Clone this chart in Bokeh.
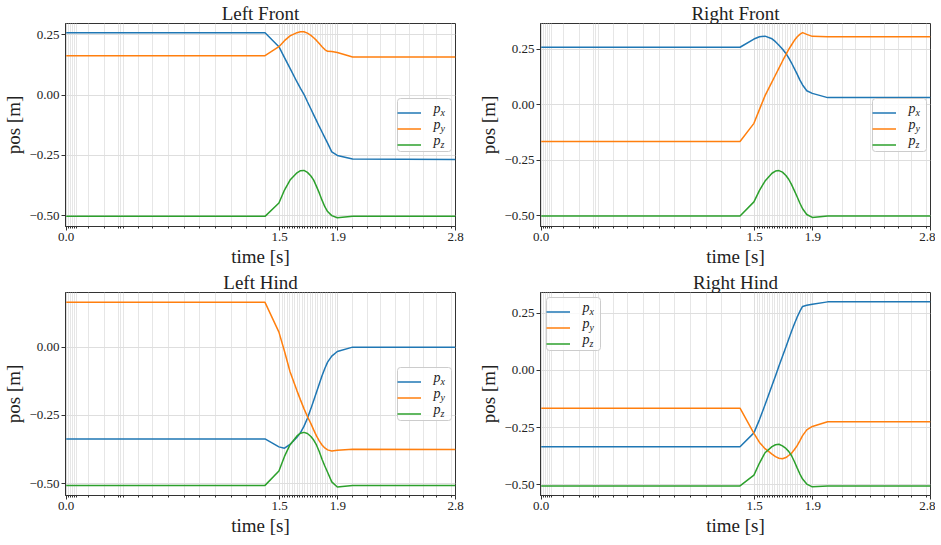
from bokeh.plotting import figure
from bokeh.layouts import column, row
from bokeh.models import FixedTicker, Range1d, Legend, LegendItem, Label, BoxAnnotation
from bokeh.embed import file_html
from bokeh.resources import INLINE

# ---------------- data ----------------
T = [0.0, 1.43, 1.53, 1.57, 1.61, 1.66, 1.685, 1.71, 1.735, 1.76, 1.78, 1.80, 1.82, 1.84,
     1.86, 1.88, 1.91, 1.95, 2.06, 2.8]

LF_px = [0.258, 0.258, 0.200, 0.155, 0.110, 0.054, 0.028, 0.003, -0.028, -0.058, -0.082,
         -0.106, -0.130, -0.153, -0.176, -0.199, -0.235, -0.250, -0.265, -0.267]
LF_py = [0.163, 0.163, 0.200, 0.225, 0.245, 0.258, 0.262, 0.262, 0.256, 0.247, 0.237,
         0.226, 0.213, 0.200, 0.188, 0.181, 0.180, 0.176, 0.157, 0.157]
LF_pz = [-0.502, -0.502, -0.447, -0.393, -0.352, -0.322, -0.313, -0.312, -0.320, -0.335, -0.352,
         -0.378, -0.405, -0.435, -0.462, -0.482, -0.499, -0.508, -0.502, -0.502]

RF_px = [0.260, 0.260, 0.297, 0.307, 0.310, 0.298, 0.285, 0.269, 0.252, 0.232, 0.212,
         0.190, 0.165, 0.140, 0.113, 0.090, 0.064, 0.052, 0.033, 0.033]
RF_py = [-0.165, -0.165, -0.083, -0.020, 0.042, 0.104, 0.135, 0.166, 0.197, 0.227, 0.250,
         0.270, 0.290, 0.306, 0.318, 0.326, 0.318, 0.309, 0.307, 0.307]
RF_pz = [-0.501, -0.501, -0.437, -0.385, -0.343, -0.308, -0.298, -0.296, -0.303, -0.318, -0.335,
         -0.358, -0.385, -0.413, -0.442, -0.468, -0.494, -0.507, -0.501, -0.501]

LH_px = [-0.336, -0.336, -0.365, -0.370, -0.356, -0.330, -0.313, -0.290, -0.260, -0.225, -0.195,
         -0.165, -0.135, -0.105, -0.078, -0.055, -0.033, -0.016, 0.000, 0.000]
LH_py = [0.164, 0.164, 0.055, -0.015, -0.090, -0.160, -0.193, -0.225, -0.254, -0.280, -0.303,
         -0.325, -0.343, -0.358, -0.369, -0.376, -0.380, -0.377, -0.374, -0.375]
LH_pz = [-0.506, -0.506, -0.453, -0.400, -0.357, -0.325, -0.315, -0.312, -0.316, -0.327, -0.340,
         -0.358, -0.382, -0.410, -0.435, -0.458, -0.493, -0.512, -0.506, -0.506]

RH_px = [-0.334, -0.334, -0.273, -0.215, -0.150, -0.066, -0.024, 0.019, 0.061, 0.103, 0.137,
         0.170, 0.202, 0.232, 0.258, 0.280, 0.285, 0.290, 0.300, 0.300]
RH_py = [-0.165, -0.165, -0.275, -0.315, -0.342, -0.366, -0.377, -0.384, -0.386, -0.381, -0.372,
         -0.362, -0.347, -0.330, -0.308, -0.285, -0.260, -0.245, -0.224, -0.224]
RH_pz = [-0.505, -0.505, -0.458, -0.405, -0.360, -0.333, -0.325, -0.323, -0.330, -0.341, -0.354,
         -0.372, -0.397, -0.425, -0.452, -0.475, -0.497, -0.509, -0.505, -0.505]

TITLES = ["Left Front", "Right Front", "Left Hind", "Right Hind"]
SERIES_NAMES = ["x", "y", "z"]

X_MAJOR = [0.0, 1.535, 1.954, 2.8]
X_MAJOR_LABELS = ["0.0", "1.5", "1.9", "2.8"]
X_MINOR = [0.015, 0.03, 0.045, 0.06, 0.076, 0.161, 0.275, 0.379, 0.394, 0.41, 0.517, 0.62,
           0.734, 0.848, 0.961, 1.073, 1.187, 1.30, 1.433,
           1.553, 1.571, 1.590, 1.608, 1.626, 1.644, 1.663, 1.681, 1.699, 1.717, 1.735,
           1.754, 1.772, 1.790, 1.808, 1.826, 1.845, 1.863, 1.881, 1.899, 1.917, 1.936,
           2.061, 2.168, 2.26, 2.367, 2.466, 2.573, 2.665, 2.772]
Y_TICKS = [-0.5, -0.25, 0.0, 0.25]
Y_TICK_LABELS = ["\u22120.50", "\u22120.25", "0.00", "0.25"]

Y_RANGES = [(-0.544, 0.296), (-0.548, 0.367), (-0.543, 0.200), (-0.547, 0.341)]
LEGEND_WHERE = ["right", "right", "right", "top_left"]

COLORS = ["#1f77b4", "#ff7f0e", "#2ca02c"]
FONT = "Liberation Serif"

# ---------------- layout ----------------
FW = 390
FH = 203
PAD, IH, SP, GW, STANDOFF, LW = 4, 13, 3, 24, 8, 14


def add_legend(p, renderers, where):
    W = 2 * PAD + GW + STANDOFF + LW
    H = 2 * PAD + 3 * IH + 2 * SP
    if where == "right":
        vx, vy = FW - W - 4, (FH - H) / 2
    else:
        vx, vy = 6, FH - H - 5
    p.add_layout(BoxAnnotation(left=vx, right=vx + W, bottom=vy, top=vy + H,
                               left_units="screen", right_units="screen",
                               bottom_units="screen", top_units="screen",
                               fill_color="white", fill_alpha=0.8,
                               line_color="#cccccc", line_width=1, line_alpha=1.0,
                               border_radius=3, level="annotation"))
    leg = Legend(items=[LegendItem(label=" ", renderers=[r]) for r in renderers],
                 location=(vx, vy), padding=PAD, spacing=SP, margin=0,
                 glyph_width=GW, glyph_height=IH, label_width=LW, label_height=IH,
                 label_standoff=STANDOFF, label_text_font_size="8px",
                 border_line_color=None, background_fill_alpha=0.0)
    p.add_layout(leg, "center")
    lx = vx + PAD + GW + STANDOFF
    for i, s in enumerate(SERIES_NAMES):
        cy = vy + H - PAD - IH / 2 - i * (IH + SP)
        p.add_layout(Label(x=lx, y=cy + 1, x_units="screen", y_units="screen", text="p",
                           text_font=FONT, text_font_style="italic", text_font_size="14px",
                           text_baseline="middle", text_align="left", text_color="#222222",
                           level="overlay"))
        p.add_layout(Label(x=lx + 7, y=cy - 3, x_units="screen", y_units="screen", text=s,
                           text_font=FONT, text_font_style="italic", text_font_size="10px",
                           text_baseline="middle", text_align="left", text_color="#222222",
                           level="overlay"))


def make(idx, series, min_left, min_right):
    ylo, yhi = Y_RANGES[idx]
    p = figure(frame_width=FW, frame_height=FH, x_range=Range1d(-0.005, 2.8),
               y_range=Range1d(ylo, yhi), output_backend="svg", toolbar_location=None,
               min_border_left=min_left, min_border_right=min_right,
               min_border_top=0, min_border_bottom=0)
    p.title.text = TITLES[idx]
    p.title.align = "center"
    p.title.text_font = FONT
    p.title.text_font_size = "19px"
    p.title.text_font_style = "normal"
    p.title.text_color = "#222222"
    p.title.standoff = 0

    p.xaxis.ticker = FixedTicker(ticks=X_MAJOR, minor_ticks=X_MINOR)
    p.xaxis.major_label_overrides = dict(zip(X_MAJOR, X_MAJOR_LABELS))
    p.yaxis.ticker = FixedTicker(ticks=Y_TICKS, minor_ticks=[])
    p.yaxis.major_label_overrides = dict(zip(Y_TICKS, Y_TICK_LABELS))
    p.xaxis.axis_label = "time [s]"
    p.yaxis.axis_label = "pos [m]"
    for ax in (p.xaxis, p.yaxis):
        ax.axis_label_text_font = FONT
        ax.axis_label_text_font_size = "19px"
        ax.axis_label_text_font_style = "normal"
        ax.axis_label_text_color = "#222222"
        ax.axis_label_standoff = 2
        ax.major_label_text_font = FONT
        ax.major_label_text_font_size = "13px"
        ax.major_label_text_color = "#222222"
        ax.major_label_standoff = 2
        ax.major_tick_out = 4
        ax.major_tick_in = 0
        ax.minor_tick_out = 2
        ax.minor_tick_in = 0
        ax.axis_line_color = "#333333"
        ax.major_tick_line_color = "#333333"
        ax.minor_tick_line_color = "#333333"
    p.outline_line_color = "#333333"
    p.outline_line_alpha = 1.0

    p.xgrid.grid_line_color = "#dedede"
    p.xgrid.minor_grid_line_color = "#e6e6e6"
    p.ygrid.grid_line_color = "#dedede"
    p.grid.grid_line_width = 1

    rs = []
    for ys, c in zip(series, COLORS):
        rs.append(p.line(T, ys, line_color=c, line_width=1.5))
    add_legend(p, rs, LEGEND_WHERE[idx])
    return p


p1 = make(0, [LF_px, LF_py, LF_pz], 50, 20)
p2 = make(1, [RF_px, RF_py, RF_pz], 50, 5)
p3 = make(2, [LH_px, LH_py, LH_pz], 50, 20)
p4 = make(3, [RH_px, RH_py, RH_pz], 50, 5)

layout = column(row(p1, p2), row(p3, p4))
open("out.html", "w").write(file_html(layout, INLINE))
